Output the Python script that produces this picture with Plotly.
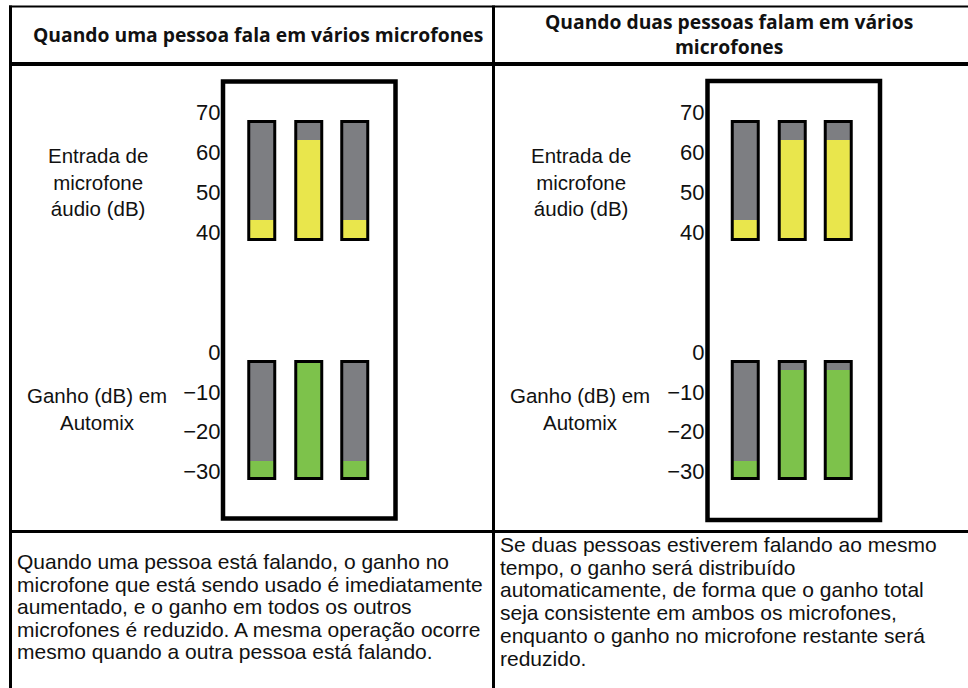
import plotly.graph_objects as go

# ---------------------------------------------------------------- data
mics = [1, 2, 3]

# meter scale limits (dB)
input_floor_db = 38.0
input_ceiling_db = 67.5
gain_floor_db = -32.0
gain_ceiling_db = -2.5

# one person talking: mic 2 active
one_talker_input_db = [43, 63, 43]
one_talker_gain_db = [-27.5, -2.5, -27.5]

# two people talking: mics 2 and 3 active
two_talker_input_db = [43, 63, 63]
two_talker_gain_db = [-27.5, -4.5, -4.5]

input_tick_vals = [40, 50, 60, 70]
input_tick_text = ["40", "50", "60", "70"]
gain_tick_vals = [0, -10, -20, -30]
gain_tick_text = ["0", "\u221210", "\u221220", "\u221230"]

header_left = "Quando uma pessoa fala em vários microfones"
header_right = "Quando duas pessoas falam em vários<br>microfones"
input_label = "Entrada de<br>microfone<br>áudio (dB)"
gain_label = "Ganho (dB) em<br>Automix"
body_left_lines = [
    "Quando uma pessoa está falando, o ganho no",
    "microfone que está sendo usado é imediatamente",
    "aumentado, e o ganho em todos os outros",
    "microfones é reduzido. A mesma operação ocorre",
    "mesmo quando a outra pessoa está falando.",
]
body_right_lines = [
    "Se duas pessoas estiverem falando ao mesmo",
    "tempo, o ganho será distribuído",
    "automaticamente, de forma que o ganho total",
    "seja consistente em ambos os microfones,",
    "enquanto o ganho no microfone restante será",
    "reduzido.",
]

# ---------------------------------------------------------------- style
W, H = 968, 688
GRAY = "#7d7e82"
YELLOW = "#e9e64c"
GREEN = "#7dc24b"
INK = "#111111"
SANS = "Liberation Sans, Arial, sans-serif"
HEAD = "Open Sans, Noto Sans, sans-serif"
BAR_W = 0.55


def fx(px):
    return px / W


def fy(py):
    return 1 - py / H


def y_domain(top_px, bottom_px):
    return [fy(bottom_px), fy(top_px)]


# pixel placement of the meter scales: (value, pixel) anchor and px per dB
def scale_range(top_px, bottom_px, ref_val, ref_px, px_per_db):
    lo = ref_val - (bottom_px - ref_px) / px_per_db
    hi = ref_val + (ref_px - top_px) / px_per_db
    return [lo, hi]


INPUT_TOP, INPUT_BOT = 90, 250
GAIN_TOP, GAIN_BOT = 340, 500
input_range = scale_range(INPUT_TOP, INPUT_BOT, 70, 112, 4.0)
gain_range = scale_range(GAIN_TOP, GAIN_BOT, 0, 352.5, 3.95)

panels = [
    dict(xdom=(239.25, 378.75), axis_px=220.5,
         inp=one_talker_input_db, gain=one_talker_gain_db),
    dict(xdom=(722.75, 862.25), axis_px=704.5,
         inp=two_talker_input_db, gain=two_talker_gain_db),
]

fig = go.Figure()
layout_axes = {}
ax_i = 0


def meter(xref, yref, levels, floor, ceiling, color):
    n = len(mics)
    span = [ceiling - floor] * n
    base = [floor] * n
    fig.add_trace(go.Bar(x=mics, y=span, base=base, width=BAR_W,
                         marker=dict(color=GRAY, line=dict(width=0)),
                         xaxis=xref, yaxis=yref, hoverinfo="skip"))
    fig.add_trace(go.Bar(x=mics, y=[v - floor for v in levels], base=base,
                         width=BAR_W,
                         marker=dict(color=color, line=dict(width=0)),
                         xaxis=xref, yaxis=yref, hoverinfo="skip"))
    fig.add_trace(go.Bar(x=mics, y=span, base=base, width=BAR_W,
                         marker=dict(color="rgba(0,0,0,0)",
                                     line=dict(color="#000000", width=3)),
                         xaxis=xref, yaxis=yref, hoverinfo="skip"))


for p in panels:
    for kind in ("inp", "gain"):
        ax_i += 1
        suf = "" if ax_i == 1 else str(ax_i)
        xname, yname = "x" + suf, "y" + suf
        if kind == "inp":
            meter(xname, yname, p["inp"], input_floor_db, input_ceiling_db, YELLOW)
            ydom = y_domain(INPUT_TOP, INPUT_BOT)
            yr = input_range
            tv, tt = input_tick_vals, input_tick_text
        else:
            meter(xname, yname, p["gain"], gain_floor_db, gain_ceiling_db, GREEN)
            ydom = y_domain(GAIN_TOP, GAIN_BOT)
            yr = gain_range
            tv, tt = gain_tick_vals, gain_tick_text
        layout_axes["xaxis" + suf] = dict(
            domain=[fx(p["xdom"][0]), fx(p["xdom"][1])], range=[0.5, 3.5],
            anchor=yname, visible=False, fixedrange=True)
        layout_axes["yaxis" + suf] = dict(
            domain=ydom, range=yr, anchor="free", position=fx(p["axis_px"]),
            tickvals=tv, ticktext=tt, ticks="", showgrid=False,
            zeroline=False, showline=False, fixedrange=True,
            tickfont=dict(family=SANS, size=22, color=INK))

shapes = []


def hline(y, x0, x1, w):
    shapes.append(dict(type="line", xref="paper", yref="paper",
                       x0=fx(x0), x1=fx(x1), y0=fy(y), y1=fy(y),
                       line=dict(color="#000000", width=w)))


def vline(x, y0, y1, w):
    shapes.append(dict(type="line", xref="paper", yref="paper",
                       x0=fx(x), x1=fx(x), y0=fy(y0), y1=fy(y1),
                       line=dict(color="#000000", width=w)))


# table grid
hline(6.5, 9, W, 2)
vline(10.5, 5.5, H, 3)
hline(64, 10, W, 4)
vline(493.5, 5.5, H, 3)
hline(531.5, 10, W, 3)

# meter frames
for x0, x1, y0, y1 in [(223, 395.5, 81.5, 518.5), (707.5, 880, 81, 520)]:
    shapes.append(dict(type="rect", xref="paper", yref="paper",
                       x0=fx(x0), x1=fx(x1), y0=fy(y1), y1=fy(y0),
                       line=dict(color="#000000", width=4.5),
                       fillcolor="rgba(0,0,0,0)", layer="below"))

annotations = []


def text(s, x, y, size, family, xanchor="left", weight="normal", align="left"):
    annotations.append(dict(text=s, x=fx(x), y=fy(y), xref="paper", yref="paper",
                            xanchor=xanchor, yanchor="middle", showarrow=False,
                            align=align,
                            font=dict(family=family, size=size, color=INK,
                                      weight=weight)))


# headers
text(header_left, 258, 35, 19.3, HEAD, xanchor="center", weight="bold")
text(header_right, 728.5, 34, 19.3, HEAD, xanchor="center", weight="bold",
     align="center")

# meter captions
for cx in (97.5, 581):
    text(input_label, cx, 182, 20.5, SANS, xanchor="center", align="center")
    text(gain_label, cx - 1, 409, 20.5, SANS, xanchor="center", align="center")

# descriptions
for i, line in enumerate(body_left_lines):
    text(line, 15, 561.8 + 22.5 * i, 21, SANS)
for i, line in enumerate(body_right_lines):
    text(line, 498, 544.2 + 22.8 * i, 21, SANS)

fig.update_layout(
    width=W, height=H,
    margin=dict(l=0, r=0, t=0, b=0, autoexpand=False),
    paper_bgcolor="white", plot_bgcolor="rgba(0,0,0,0)",
    barmode="overlay", bargap=0, showlegend=False,
    shapes=shapes, annotations=annotations,
    **layout_axes,
)

fig.write_html("out.html", config={"displayModeBar": False})
